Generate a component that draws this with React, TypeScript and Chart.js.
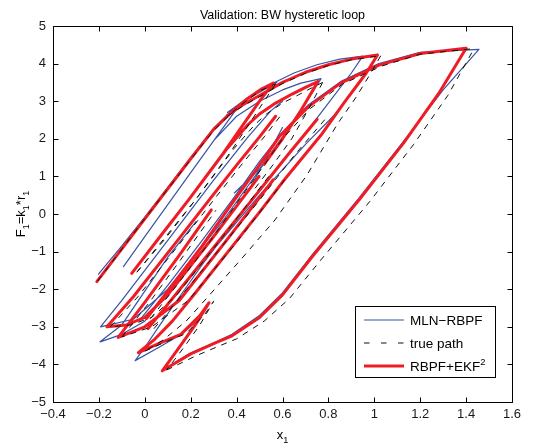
import { useEffect, useRef } from "react";
import { Chart, registerables } from "chart.js";

Chart.register(...registerables);

const X_TICKS = [-0.4, -0.2, 0, 0.2, 0.4, 0.6, 0.8, 1, 1.2, 1.4, 1.6];
const Y_TICKS = [-5, -4, -3, -2, -1, 0, 1, 2, 3, 4, 5];
const TITLE = "Validation: BW hysteretic loop";
const SERIES_NAMES = ["MLN\u2212RBPF", "true path", "RBPF+EKF"];

// MLN-RBPF (blue) strokes: [x1, F1]
const mlnStrokes: number[][][] = [
  [[-0.202, -1.6], [-0.1, -0.85], [0.0, -0.08], [0.2, 1.5], [0.3, 2.28], [0.38, 2.76], [0.45, 3.1], [0.52, 3.35], [0.575, 3.5]],
  [[0.575, 3.5], [0.42, 2.96], [0.2, 1.1], [0.0, -0.6], [-0.093, -1.4]],
  [[0.3, 1.95], [0.4, 2.6], [0.5, 3.0], [0.6, 3.3], [0.68, 3.48], [0.768, 3.6]],
  [[0.768, 3.6], [0.7, 2.95], [0.6, 2.05], [0.5, 1.2], [0.39, 0.56]],
  [[0.36, 2.7], [0.45, 3.1], [0.55, 3.45], [0.65, 3.75], [0.75, 3.97], [0.85, 4.12], [0.95, 4.2]],
  [[0.95, 4.2], [0.9, 3.75], [0.8, 2.95], [0.7, 2.15], [0.55, 1.0], [0.4, -0.15], [0.25, -1.35], [0.14, -2.3], [0.06, -3.0], [0.0, -3.55], [-0.042, -3.9]],
  [[-0.042, -3.9], [0.06, -3.55], [0.16, -3.2], [0.248, -2.74]],
  [[0.08, -4.15], [0.2, -3.7], [0.3, -3.43], [0.38, -3.2], [0.5, -2.7], [0.6, -2.1], [0.73, -1.08], [0.934, 0.43], [1.13, 1.95], [1.3, 3.3], [1.456, 4.38]],
  [[-0.02, -2.8], [0.1, -1.9], [0.25, -0.7], [0.39, 0.45], [0.5, 1.4], [0.59, 2.1], [0.712, 2.9], [0.853, 3.52], [1.02, 4.0], [1.2, 4.3], [1.456, 4.38]],
  [[-0.195, -3.4], [-0.1, -2.95], [0.0, -2.05], [0.1, -1.15], [0.223, -0.2]],
  [[-0.193, -3.0], [-0.1, -2.3], [0.1, -0.7], [0.3, 0.9], [0.45, 2.05], [0.55, 2.75], [0.6, 3.0]],
  [[0.02, -3.0], [0.25, -1.3], [0.5, 0.5], [0.7, 1.85], [0.837, 2.7]],
  [[0.6, 2.3], [0.46, 0.7], [0.2, -1.35], [0.0, -2.85], [-0.1, -3.2], [-0.195, -3.4]],
  [[0.55, 1.6], [0.35, -0.1], [0.1, -2.0], [-0.05, -2.8], [-0.193, -3.0]],
];

// true path (black dashed) strokes
const trueStrokes: number[][][] = [
  [[-0.205, -1.78], [0.0, -0.12], [0.2, 1.45], [0.3, 2.22], [0.38, 2.7], [0.45, 3.05], [0.51, 3.3], [0.57, 3.46]],
  [[0.57, 3.46], [0.52, 3.0], [0.37, 1.62], [0.22, 0.37], [0.09, -0.65], [-0.035, -1.55]],
  [[-0.035, -1.55], [0.22, 0.37], [0.39, 1.75], [0.48, 2.38], [0.53, 2.66], [0.6, 2.95], [0.67, 3.17], [0.72, 3.33], [0.775, 3.5]],
  [[0.775, 3.5], [0.71, 2.75], [0.64, 2.0], [0.56, 1.32], [0.47, 0.6]],
  [[0.36, 2.6], [0.43, 2.88], [0.5, 3.12], [0.6, 3.47], [0.7, 3.74], [0.8, 3.95], [0.9, 4.1], [1.028, 4.21]],
  [[1.028, 4.21], [0.99, 3.8], [0.92, 3.1], [0.84, 2.4], [0.707, 1.04], [0.567, -0.16], [0.42, -1.2], [0.29, -2.1], [0.18, -2.85], [0.08, -3.35], [0.0, -3.65]],
  [[0.0, -3.65], [0.08, -3.43], [0.18, -3.18], [0.26, -2.68], [0.3, -2.32], [0.24, -2.95], [0.17, -3.55], [0.095, -4.15]],
  [[0.095, -4.15], [0.22, -3.78], [0.32, -3.52], [0.4, -3.32], [0.52, -2.85], [0.63, -2.25], [0.77, -1.2], [0.98, 0.33], [1.17, 1.84], [1.32, 3.15], [1.435, 4.4]],
  [[0.025, -2.78], [0.12, -2.05], [0.27, -0.85], [0.41, 0.37], [0.52, 1.3], [0.6, 2.0], [0.72, 2.8], [0.86, 3.45], [1.03, 3.93], [1.2, 4.25], [1.435, 4.4]],
  [[0.04, -3.05], [0.23, -1.65], [0.5, 0.37], [0.65, 1.55], [0.79, 2.55]],
  [[-0.1, -3.27], [0.02, -2.35], [0.17, -1.1], [0.31, 0.1]],
  [[0.54, 1.0], [0.34, -0.6], [0.14, -2.15], [0.03, -2.75], [-0.06, -2.95], [-0.15, -3.0]],
  [[-0.15, -3.0], [-0.03, -2.2], [0.17, -0.65], [0.31, 0.45], [0.42, 1.3], [0.52, 2.05], [0.59, 2.6]],
  [[0.61, 0.91], [0.4, -0.75], [0.19, -2.3], [0.03, -3.0], [-0.1, -3.27]],
];

// RBPF+EKF^2 (red) strokes
const ekfStrokes: number[][][] = [
  [[-0.209, -1.8], [0.0, -0.13], [0.2, 1.47], [0.3, 2.25], [0.38, 2.72], [0.45, 3.08], [0.51, 3.33], [0.56, 3.48]],
  [[0.56, 3.48], [0.5, 3.0], [0.34, 1.6], [0.19, 0.37], [0.06, -0.65], [-0.057, -1.58]],
  [[-0.057, -1.58], [0.19, 0.37], [0.36, 1.75], [0.45, 2.38], [0.5, 2.66], [0.57, 2.95], [0.642, 3.19], [0.7, 3.37], [0.754, 3.52]],
  [[0.754, 3.52], [0.68, 2.75], [0.6, 2.0], [0.52, 1.32]],
  [[0.36, 2.62], [0.42, 2.88], [0.5, 3.15], [0.6, 3.5], [0.7, 3.77], [0.8, 3.97], [0.9, 4.12], [1.014, 4.23]],
  [[1.014, 4.23], [0.965, 3.75], [0.867, 2.95], [0.768, 2.1], [0.6, 0.85], [0.5, 0.05], [0.35, -1.1], [0.22, -2.1], [0.12, -2.85], [0.04, -3.35], [-0.028, -3.69]],
  [[-0.028, -3.69], [0.06, -3.45], [0.157, -3.2], [0.24, -2.7], [0.28, -2.36], [0.22, -2.95], [0.15, -3.55], [0.076, -4.17]],
  [[0.076, -4.17], [0.2, -3.72], [0.3, -3.45], [0.38, -3.24], [0.5, -2.75], [0.6, -2.15], [0.73, -1.13], [0.934, 0.38], [1.128, 1.89], [1.28, 3.2], [1.4, 4.41]],
  [[0.007, -2.78], [0.1, -2.05], [0.25, -0.85], [0.39, 0.37], [0.5, 1.3], [0.586, 2.06], [0.712, 2.85], [0.853, 3.48], [1.02, 3.96], [1.2, 4.27], [1.4, 4.41]],
  [[0.014, -3.05], [0.2, -1.65], [0.466, 0.37], [0.62, 1.55], [0.751, 2.52]],
  [[-0.116, -3.28], [0.0, -2.35], [0.15, -1.1], [0.29, 0.11]],
  [[0.498, 1.0], [0.3, -0.6], [0.1, -2.15], [0.0, -2.75], [-0.08, -2.95], [-0.165, -3.0]],
  [[-0.165, -3.0], [-0.05, -2.2], [0.15, -0.65], [0.29, 0.45], [0.4, 1.3], [0.5, 2.05], [0.57, 2.6]],
  [[0.56, 0.91], [0.35, -0.75], [0.15, -2.3], [0.0, -3.0], [-0.116, -3.28]],
];

const BLUE = "#3653a5";
const RED = "#ee1c25";
const BLACK = "#111111";
const FONT = "'Liberation Sans', Arial, Helvetica, sans-serif";

function toPoints(strokes: number[][][]) {
  const pts: { x: number; y: number | null }[] = [];
  strokes.forEach((s, i) => {
    if (i > 0) pts.push({ x: s[0][0], y: null });
    s.forEach(([x, y]) => pts.push({ x, y }));
  });
  return pts;
}

function fmt(v: number) {
  const r = Math.round(v * 10) / 10;
  return String(r).replace("-", "\u2212");
}

type Part = { t: string; sub?: boolean; sup?: boolean };

function richWidth(ctx: CanvasRenderingContext2D, parts: Part[], size: number) {
  let w = 0;
  for (const p of parts) {
    const s = p.sub || p.sup ? size * 0.7 : size;
    ctx.font = `${s}px ${FONT}`;
    w += ctx.measureText(p.t).width;
  }
  return w;
}

function drawRich(ctx: CanvasRenderingContext2D, parts: Part[], x: number, y: number, size: number) {
  let cx = x;
  ctx.textBaseline = "alphabetic";
  ctx.textAlign = "left";
  for (const p of parts) {
    const s = p.sub || p.sup ? size * 0.7 : size;
    const dy = p.sub ? size * 0.32 : p.sup ? -size * 0.42 : 0;
    ctx.font = `${s}px ${FONT}`;
    ctx.fillText(p.t, cx, y + dy);
    cx += ctx.measureText(p.t).width;
  }
}

const decorPlugin = {
  id: "decor",
  afterDraw(chart: any) {
    const ctx: CanvasRenderingContext2D = chart.ctx;
    const { left, right, top, bottom } = chart.chartArea;
    const xs = chart.scales.x;
    const ys = chart.scales.y;
    ctx.save();
    ctx.strokeStyle = "#000";
    ctx.lineWidth = 1;
    ctx.setLineDash([]);
    const L = Math.round(left) + 0.5;
    const R = Math.round(right) + 0.5;
    const T = Math.round(top) + 0.5;
    const B = Math.round(bottom) + 0.5;
    ctx.beginPath();
    ctx.rect(L, T, R - L, B - T);
    const tl = 5;
    for (const v of X_TICKS) {
      const px = Math.round(xs.getPixelForValue(v)) + 0.5;
      ctx.moveTo(px, B);
      ctx.lineTo(px, B - tl);
      ctx.moveTo(px, T);
      ctx.lineTo(px, T + tl);
    }
    for (const v of Y_TICKS) {
      const py = Math.round(ys.getPixelForValue(v)) + 0.5;
      ctx.moveTo(L, py);
      ctx.lineTo(L + tl, py);
      ctx.moveTo(R, py);
      ctx.lineTo(R - tl, py);
    }
    ctx.stroke();

    // title
    ctx.fillStyle = "#000";
    ctx.font = `12.5px ${FONT}`;
    ctx.textAlign = "center";
    ctx.textBaseline = "alphabetic";
    ctx.fillText(TITLE, (left + right) / 2, 19);

    // x label
    const xParts: Part[] = [{ t: "x" }, { t: "1", sub: true }];
    const xw = richWidth(ctx, xParts, 13);
    drawRich(ctx, xParts, (left + right) / 2 - xw / 2, 439, 13);

    // y label (rotated)
    const yParts: Part[] = [
      { t: "F" }, { t: "1", sub: true }, { t: "=k" }, { t: "1", sub: true }, { t: "*r" }, { t: "1", sub: true },
    ];
    const yw = richWidth(ctx, yParts, 13);
    ctx.save();
    ctx.translate(25, (top + bottom) / 2);
    ctx.rotate(-Math.PI / 2);
    drawRich(ctx, yParts, -yw / 2, 0, 13);
    ctx.restore();

    // legend
    const bx0 = 355, bx1 = 495, by0 = 306, by1 = 377;
    ctx.fillStyle = "#fff";
    ctx.fillRect(bx0, by0, bx1 - bx0, by1 - by0);
    ctx.strokeStyle = "#000";
    ctx.lineWidth = 1;
    ctx.strokeRect(bx0 + 0.5, by0 + 0.5, bx1 - bx0, by1 - by0);
    const rows = [320, 343, 366];
    const sx0 = 364, sx1 = 404, tx = 410;
    ctx.strokeStyle = BLUE;
    ctx.lineWidth = 1.2;
    ctx.beginPath();
    ctx.moveTo(sx0, rows[0]);
    ctx.lineTo(sx1, rows[0]);
    ctx.stroke();
    ctx.strokeStyle = BLACK;
    ctx.lineWidth = 1;
    ctx.setLineDash([5.5, 11.5]);
    ctx.beginPath();
    ctx.moveTo(sx0, rows[1]);
    ctx.lineTo(sx1, rows[1]);
    ctx.stroke();
    ctx.setLineDash([]);
    ctx.strokeStyle = RED;
    ctx.lineWidth = 3;
    ctx.beginPath();
    ctx.moveTo(sx0, rows[2]);
    ctx.lineTo(sx1, rows[2]);
    ctx.stroke();

    ctx.fillStyle = "#000";
    drawRich(ctx, [{ t: SERIES_NAMES[0] }], tx, rows[0] + 5, 13.5);
    drawRich(ctx, [{ t: SERIES_NAMES[1] }], tx, rows[1] + 5, 13.5);
    drawRich(ctx, [{ t: SERIES_NAMES[2] }, { t: "2", sup: true }], tx, rows[2] + 5, 13.5);
    ctx.restore();
  },
};

export default function App() {
  const ref = useRef<HTMLCanvasElement | null>(null);
  useEffect(() => {
    document.body.style.margin = "0";
    const canvas = ref.current;
    if (!canvas) return;
    const common = {
      showLine: true,
      pointRadius: 0,
      pointHoverRadius: 0,
      fill: false,
      tension: 0,
      spanGaps: false,
      borderCapStyle: "round" as const,
      borderJoinStyle: "round" as const,
    };
    const chart = new Chart(canvas, {
      type: "scatter",
      data: {
        datasets: [
          { ...common, label: SERIES_NAMES[1], data: toPoints(trueStrokes) as any, borderColor: BLACK, borderWidth: 1, borderDash: [6, 6], borderCapStyle: "butt", order: 0 },
          { ...common, label: SERIES_NAMES[2], data: toPoints(ekfStrokes) as any, borderColor: RED, borderWidth: 3, order: 1 },
          { ...common, label: SERIES_NAMES[0], data: toPoints(mlnStrokes) as any, borderColor: BLUE, borderWidth: 1.2, order: 2 },
        ],
      },
      options: {
        animation: false,
        responsive: false,
        maintainAspectRatio: false,
        devicePixelRatio: 1,
        layout: { padding: { left: 0, right: 30, top: 26, bottom: 0 } },
        plugins: { legend: { display: false }, tooltip: { enabled: false }, title: { display: false } },
        events: [],
        scales: {
          x: {
            type: "linear",
            min: -0.4,
            max: 1.6,
            afterBuildTicks: (axis: any) => {
              axis.ticks = X_TICKS.map((v) => ({ value: v }));
            },
            afterFit: (axis: any) => {
              axis.height = 45;
            },
            grid: { display: false, drawTicks: false },
            border: { display: false },
            ticks: {
              padding: 5,
              autoSkip: false,
              maxRotation: 0,
              color: "#1a1a1a",
              font: { family: FONT, size: 13 },
              callback: (v: any) => fmt(Number(v)),
            },
          },
          y: {
            type: "linear",
            min: -5,
            max: 5,
            afterBuildTicks: (axis: any) => {
              axis.ticks = Y_TICKS.map((v) => ({ value: v }));
            },
            afterFit: (axis: any) => {
              axis.width = 53;
            },
            grid: { display: false, drawTicks: false },
            border: { display: false },
            ticks: {
              padding: 7,
              autoSkip: false,
              color: "#1a1a1a",
              font: { family: FONT, size: 13 },
              callback: (v: any) => fmt(Number(v)),
            },
          },
        },
      },
      plugins: [decorPlugin],
    });
    return () => chart.destroy();
  }, []);
  return (
    <canvas ref={ref} width={542} height={447} style={{ display: "block", width: 542, height: 447 }} />
  );
}
